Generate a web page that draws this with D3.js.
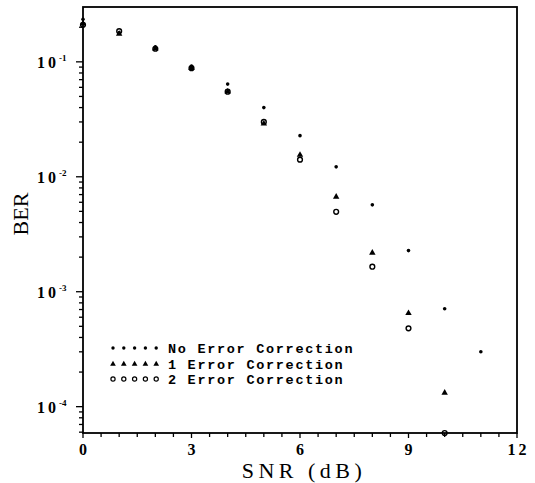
<!DOCTYPE html>
<html>
<head>
<meta charset="utf-8">
<script src="https://cdn.jsdelivr.net/npm/d3@7"></script>
<style>
  body { margin: 0; background: #fff; }
  text { fill: #000; }
  .tick-label { font-family: 'Liberation Serif', serif; font-weight: bold; font-size: 16px; letter-spacing: 3px; }
  .axis-title { font-family: 'Liberation Serif', serif; font-size: 22px; }
  .legend-text { font-family: 'Liberation Mono', monospace; font-weight: bold; font-size: 13.5px; letter-spacing: 1.7px; }
</style>
</head>
<body>
<svg id="chart" width="535" height="483"></svg>
<script>
// data
const snr = [0, 1, 2, 3, 4, 5, 6, 7, 8, 9, 10, 11];
const berNoCorrection = [0.235, 0.18, 0.135, 0.092, 0.064, 0.040, 0.0228, 0.0122, 0.0057, 0.00228, 0.00071, 0.00030];
const berOneCorrection = [0.215, 0.175, 0.130, 0.088, 0.055, 0.029, 0.0155, 0.0067, 0.00218, 0.00065, 0.000132];
const berTwoCorrection = [0.21, 0.185, 0.13, 0.088, 0.055, 0.030, 0.0141, 0.00496, 0.00165, 0.00048, 0.000059];

const xTicks = [0, 3, 6, 9, 12];
const yTicks = [1e-1, 1e-2, 1e-3, 1e-4];
const yTickExp = ['-1', '-2', '-3', '-4'];
const legendLabels = ['No Error Correction', '1 Error Correction', '2 Error Correction'];

const margin = { top: 7, bottom: 50, left: 83, right: 18 };
const width = 535;
const height = 483;

const svg = d3.select('#chart');

const x = d3.scaleLinear()
            .domain([0, 12])
            .range([margin.left, width - margin.right]);

const y = d3.scaleLog()
            .domain([5.9e-5, 0.3])
            .range([height - margin.bottom, margin.top]);

// frame
svg.append('rect')
   .attr('x', x(0))
   .attr('y', y(0.3))
   .attr('width', x(12) - x(0))
   .attr('height', y(5.9e-5) - y(0.3))
   .attr('fill', 'none')
   .attr('stroke', '#000')
   .attr('stroke-width', 1.8);

// x ticks every 0.5 dB
const xMinor = d3.range(0, 12.01, 0.5);
svg.append('g')
   .selectAll('line')
   .data(xMinor)
   .enter().append('line')
   .attr('x1', d => x(d))
   .attr('x2', d => x(d))
   .attr('y1', y(5.9e-5))
   .attr('y2', d => y(5.9e-5) + (d % 3 === 0 ? 5 : 4))
   .attr('stroke', '#000')
   .attr('stroke-width', 1.3);

svg.append('g')
   .selectAll('text')
   .data(xTicks)
   .enter().append('text')
   .attr('class', 'tick-label')
   .attr('x', d => x(d) + 1.5)
   .attr('y', 455)
   .attr('text-anchor', 'middle')
   .text(d => d);

// y ticks, majors plus 2..9 in each decade
const yMinor = [];
for (let e = -5; e <= -1; e++) {
  for (let m = 1; m <= 9; m++) {
    const v = m * Math.pow(10, e);
    if (v >= 5.9e-5 && v <= 0.3) yMinor.push({ v: v, major: m === 1 });
  }
}
svg.append('g')
   .selectAll('line')
   .data(yMinor)
   .enter().append('line')
   .attr('x1', x(0))
   .attr('x2', d => x(0) - (d.major ? 7 : 4))
   .attr('y1', d => y(d.v))
   .attr('y2', d => y(d.v))
   .attr('stroke', '#000')
   .attr('stroke-width', 1.3);

const yLabels = svg.append('g')
                   .selectAll('text')
                   .data(yTicks)
                   .enter().append('text')
                   .attr('class', 'tick-label')
                   .attr('x', 37)
                   .attr('y', d => y(d) + 6);
yLabels.append('tspan').text('10');
yLabels.append('tspan')
       .attr('dy', -7)
       .style('font-size', '9px')
       .style('letter-spacing', '0px')
       .text((d, i) => yTickExp[i]);

// axis titles
svg.append('text')
   .attr('class', 'axis-title')
   .attr('x', 304)
   .attr('y', 478)
   .attr('text-anchor', 'middle')
   .style('letter-spacing', '4.5px')
   .text('SNR (dB)');

svg.append('text')
   .attr('class', 'axis-title')
   .attr('transform', 'translate(28, 214) rotate(-90)')
   .attr('text-anchor', 'middle')
   .text('BER');

// markers
const tri = d3.symbol().type(d3.symbolTriangle).size(18);

const plot = svg.append('g').attr('id', 'plot');

plot.append('g')
    .selectAll('circle')
    .data(berTwoCorrection)
    .enter().append('circle')
    .attr('cx', (d, i) => x(snr[i]))
    .attr('cy', d => y(d))
    .attr('r', 2.4)
    .attr('fill', 'none')
    .attr('stroke', '#000')
    .attr('stroke-width', 1.4);

plot.append('g')
    .selectAll('path')
    .data(berOneCorrection)
    .enter().append('path')
    .attr('d', tri)
    .attr('transform', (d, i) => 'translate(' + x(snr[i]) + ',' + y(d) + ')')
    .attr('fill', '#000');

plot.append('g')
    .selectAll('circle')
    .data(berNoCorrection)
    .enter().append('circle')
    .attr('cx', (d, i) => x(snr[i]))
    .attr('cy', d => y(d))
    .attr('r', 1.8)
    .attr('fill', '#000');

// legend
const legend = svg.append('g').attr('id', 'legend');
const legendY = [349, 365, 380];
const legendX = d3.range(5).map(i => 113 + i * 10.8);

legendLabels.forEach((label, row) => {
  const g = legend.append('g');
  legendX.forEach(lx => {
    if (row === 0) {
      g.append('circle').attr('cx', lx).attr('cy', legendY[row] - 1).attr('r', 1.7).attr('fill', '#000');
    } else if (row === 1) {
      g.append('path').attr('d', d3.symbol().type(d3.symbolTriangle).size(14))
       .attr('transform', 'translate(' + lx + ',' + (legendY[row] - 1) + ')').attr('fill', '#000');
    } else {
      g.append('circle').attr('cx', lx).attr('cy', legendY[row] - 1).attr('r', 2.1)
       .attr('fill', 'none').attr('stroke', '#000').attr('stroke-width', 1.2);
    }
  });
  g.append('text')
   .attr('class', 'legend-text')
   .attr('x', 168)
   .attr('y', legendY[row] + 4)
   .text(label);
});
</script>
</body>
</html>
